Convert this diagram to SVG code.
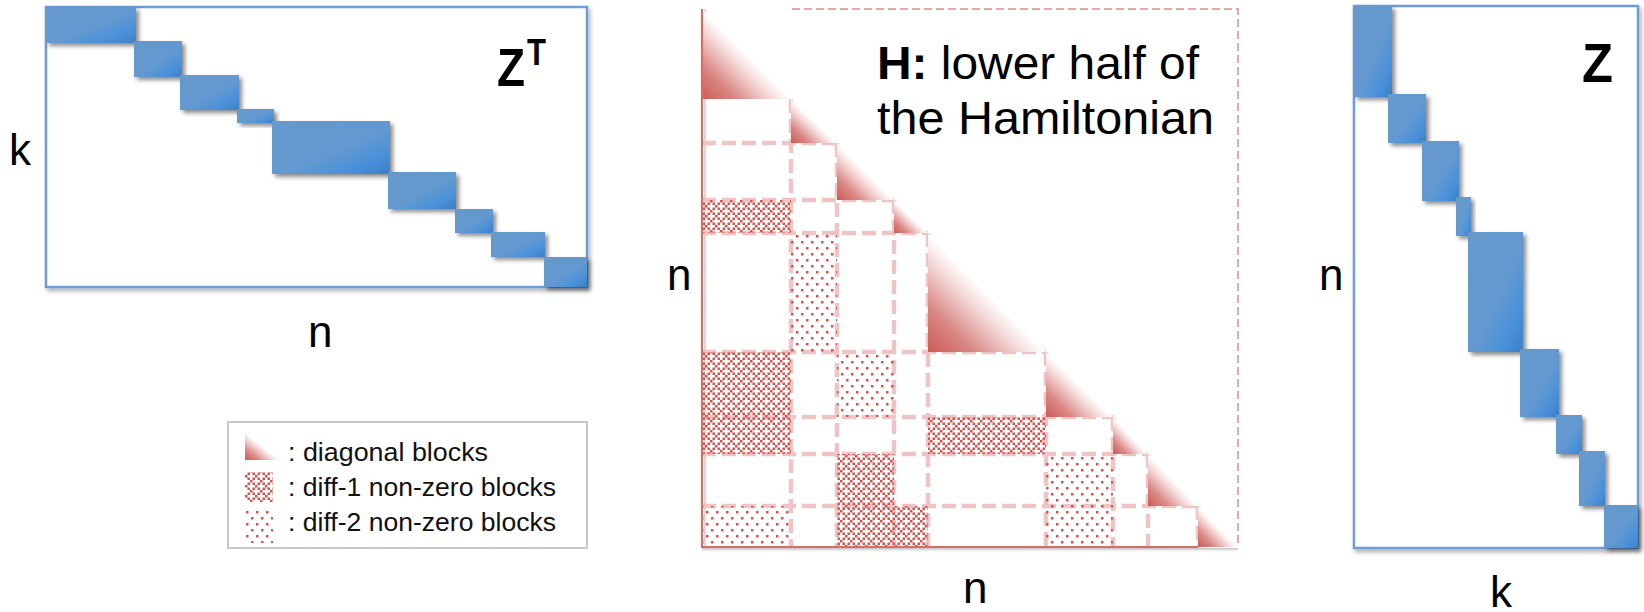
<svg xmlns="http://www.w3.org/2000/svg" width="1644" height="612" viewBox="0 0 1644 612">
<style>
.lbl{font-family:"Liberation Sans",Arial,sans-serif;font-size:44px;fill:#000}
.ttl{font-family:"Liberation Sans",Arial,sans-serif;font-size:47px;fill:#000}
.zl{font-family:"Liberation Sans",Arial,sans-serif;font-weight:bold;fill:#000}
.leg{font-family:"Liberation Sans",Arial,sans-serif;font-size:26px;fill:#111}
.box{fill:#fff;stroke:#6d9dd5;stroke-width:2.5}
.blk{fill:url(#blue);filter:url(#sh)}
.grid{stroke:#efc4c4;stroke-width:4.5;stroke-dasharray:14 6;fill:none}
.d1{fill:url(#p1)}
.d2{fill:url(#p2)}
.tri{fill:url(#red)}
</style>
<defs>
<filter id="sh" x="-20%" y="-20%" width="150%" height="150%">
<feDropShadow dx="3" dy="3" stdDeviation="2" flood-color="#000" flood-opacity="0.45"/>
</filter>
<filter id="sh2" x="-5%" y="-5%" width="110%" height="110%">
<feDropShadow dx="2" dy="3" stdDeviation="2" flood-color="#000" flood-opacity="0.3"/>
</filter>
<linearGradient id="blue" x1="0" y1="0" x2="1" y2="1">
<stop offset="0" stop-color="#6699cc"/>
<stop offset="0.55" stop-color="#6399d0"/>
<stop offset="0.8" stop-color="#4a90da"/>
<stop offset="1" stop-color="#3b7fc4"/>
</linearGradient>
<linearGradient id="red" x1="0" y1="1" x2="0.5" y2="0.5">
<stop offset="0" stop-color="#cc5a55"/>
<stop offset="0.4" stop-color="#da8986"/>
<stop offset="0.78" stop-color="#f3d8d7"/>
<stop offset="1" stop-color="#ffffff"/>
</linearGradient>
<linearGradient id="lsh" x1="0" y1="0" x2="1" y2="0">
<stop offset="0" stop-color="#bbb" stop-opacity="0.8"/>
<stop offset="1" stop-color="#fff" stop-opacity="0"/>
</linearGradient>
<linearGradient id="bsh" x1="0" y1="0" x2="0" y2="1">
<stop offset="0" stop-color="#aaa" stop-opacity="0.8"/>
<stop offset="1" stop-color="#fff" stop-opacity="0"/>
</linearGradient>
<pattern id="p1" width="10" height="10" patternUnits="userSpaceOnUse">
<path d="M0 0h2.5v2.5H0zM2.5 2.5h2.5v2.5H2.5zM5 5h2.5v2.5H5zM7.5 7.5h2.5v2.5H7.5zM2.5 7.5h2.5v2.5H2.5zM7.5 2.5h2.5v2.5H7.5z" fill="#d4534e"/>
</pattern>
<pattern id="p2" width="10" height="12" patternUnits="userSpaceOnUse">
<path d="M1 1h2.5v2.5H1zM6 7h2.5v2.5H6z" fill="#d4534e"/>
</pattern>
</defs>
<rect width="1644" height="612" fill="#fff"/>

<g id="zt">
<rect class="box" x="46" y="7" width="541" height="280" filter="url(#sh2)"/>
<rect class="blk" x="46" y="7" width="90" height="36"/>
<rect class="blk" x="134" y="41" width="48" height="36"/>
<rect class="blk" x="180" y="75" width="59" height="35"/>
<rect class="blk" x="237" y="109" width="37" height="14"/>
<rect class="blk" x="272" y="121" width="118" height="53"/>
<rect class="blk" x="388" y="172" width="68" height="37"/>
<rect class="blk" x="455" y="209" width="38" height="24"/>
<rect class="blk" x="491" y="232" width="54" height="25"/>
<rect class="blk" x="544" y="257" width="43" height="30"/>
<text class="zl" x="497" y="86" font-size="54" textLength="28" lengthAdjust="spacingAndGlyphs">Z</text>
<text class="zl" x="527" y="65" font-size="36" textLength="19" lengthAdjust="spacingAndGlyphs">T</text>
<text class="lbl" x="9" y="165">k</text>
<text class="lbl" x="308" y="347">n</text>
</g>

<g id="legend">
<rect x="228" y="422" width="359" height="126" fill="#fff" stroke="#c8c8c8" stroke-width="2"/>
<polygon class="tri" points="245,432 245,460 280,460"/>
<rect class="d1" x="245" y="472" width="28" height="30"/>
<rect class="d2" x="245" y="509" width="28" height="34"/>
<text class="leg" x="288" y="461" textLength="200" lengthAdjust="spacingAndGlyphs">: diagonal blocks</text>
<text class="leg" x="288" y="496" textLength="268" lengthAdjust="spacingAndGlyphs">: diff-1 non-zero blocks</text>
<text class="leg" x="288" y="531" textLength="268" lengthAdjust="spacingAndGlyphs">: diff-2 non-zero blocks</text>
</g>

<g id="h">
<rect x="704" y="9" width="5" height="538" fill="url(#lsh)"/>
<rect x="702" y="548" width="536" height="5" fill="url(#bsh)"/>
<g class="grid">
<path d="M791 99V547M837 143V547M894 200V547M928 233V547M1046 352V547M1113 417V547M1148 454V547M1198 506V547"/>
<path d="M702 143H837M702 200H894M702 233H928M702 352H1046M702 417H1113M702 454H1148M702 506H1198"/>
</g>
<rect class="d1" x="702" y="200" width="89" height="33"/>
<rect class="d2" x="791" y="233" width="46" height="119"/>
<rect class="d1" x="702" y="352" width="89" height="65"/>
<rect class="d2" x="837" y="352" width="57" height="65"/>
<rect class="d1" x="702" y="417" width="89" height="37"/>
<rect class="d1" x="928" y="417" width="118" height="37"/>
<rect class="d1" x="837" y="454" width="57" height="52"/>
<rect class="d2" x="1046" y="454" width="67" height="52"/>
<rect class="d2" x="702" y="506" width="89" height="41"/>
<rect class="d1" x="837" y="506" width="57" height="41"/>
<rect class="d1" x="894" y="506" width="34" height="41"/>
<rect class="d2" x="1046" y="506" width="67" height="41"/>
<polygon class="tri" points="702,9 702,99 791,99"/>
<polygon class="tri" points="791,99 791,143 837,143"/>
<polygon class="tri" points="837,143 837,200 894,200"/>
<polygon class="tri" points="894,200 894,233 928,233"/>
<polygon class="tri" points="928,233 928,352 1046,352"/>
<polygon class="tri" points="1046,352 1046,417 1113,417"/>
<polygon class="tri" points="1113,417 1113,454 1148,454"/>
<polygon class="tri" points="1148,454 1148,506 1198,506"/>
<polygon class="tri" points="1198,506 1198,547 1238,547"/>
<path d="M792 9H1238V547" fill="none" stroke="#e08a86" stroke-width="1.5" stroke-dasharray="8 4"/>
<path d="M702 9V547H1198" fill="none" stroke="#d66d68" stroke-width="2.2"/>
<text class="ttl" x="877" y="79" textLength="322" lengthAdjust="spacingAndGlyphs"><tspan font-weight="bold">H:</tspan> lower half of</text>
<text class="ttl" x="877" y="134" textLength="337" lengthAdjust="spacingAndGlyphs">the Hamiltonian</text>
<text class="lbl" x="667" y="290">n</text>
<text class="lbl" x="963" y="603">n</text>
</g>

<g id="z">
<rect class="box" x="1354" y="6" width="284" height="542" filter="url(#sh2)"/>
<rect class="blk" x="1354" y="6" width="38" height="91"/>
<rect class="blk" x="1388" y="94" width="38" height="49"/>
<rect class="blk" x="1422" y="141" width="37" height="60"/>
<rect class="blk" x="1456" y="197" width="15" height="39"/>
<rect class="blk" x="1468" y="232" width="55" height="120"/>
<rect class="blk" x="1520" y="349" width="39" height="68"/>
<rect class="blk" x="1556" y="415" width="26" height="39"/>
<rect class="blk" x="1579" y="451" width="26" height="55"/>
<rect class="blk" x="1604" y="505" width="34" height="43"/>
<text class="zl" x="1582" y="82" font-size="56" textLength="31" lengthAdjust="spacingAndGlyphs">Z</text>
<text class="lbl" x="1319" y="290">n</text>
<text class="lbl" x="1490" y="607">k</text>
</g>
</svg>
